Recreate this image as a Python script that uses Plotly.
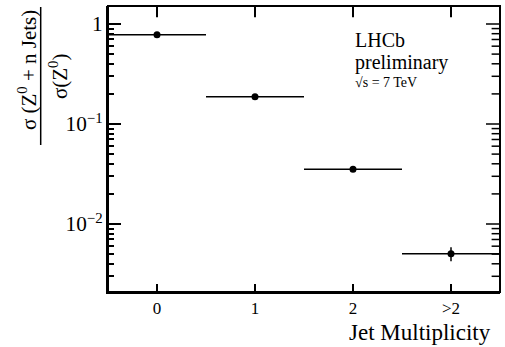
import plotly.graph_objects as go

# Jet multiplicity bins and cross-section ratios
categories = ["0", "1", "2", ">2"]
bin_centers = [0, 1, 2, 3]
ratio = [0.78, 0.187, 0.0352, 0.00505]
ratio_err = [0.004, 0.002, 0.0012, 0.0008]
bin_half_width = [0.5, 0.5, 0.5, 0.5]

# y-axis decades and the minor subdivisions inside each decade
decades = [0.01, 0.1, 1]
minor_steps = [2, 3, 4, 5, 6, 7, 8, 9]

FONT = "Liberation Serif"
INK = "#000000"
X_RANGE = [-0.5, 3.5]
Y_RANGE = [-2.68, 0.18]

fig = go.Figure()
fig.add_trace(go.Scatter(
    x=bin_centers, y=ratio, mode="markers",
    marker=dict(color=INK, size=7),
    error_y=dict(type="data", array=ratio_err, color=INK, thickness=1.5, width=0),
    error_x=dict(type="data", array=bin_half_width, color=INK, thickness=1.5, width=0),
    showlegend=False,
))

# Tick marks on the right and top edges of the frame, clipped to the plot area
y_lo, y_hi = 10 ** Y_RANGE[0], 10 ** Y_RANGE[1]
minor_vals = [m * d for d in [0.001] + decades for m in minor_steps if y_lo <= m * d <= y_hi]
tick_marks = [
    (X_RANGE[1], decades, "line-ew", 20),
    (X_RANGE[1], minor_vals, "line-ew", 12),
]
for x_edge, yv, sym, size in tick_marks:
    fig.add_trace(go.Scatter(
        x=[x_edge] * len(yv), y=yv, mode="markers", cliponaxis=True,
        marker=dict(symbol=sym, size=size, line=dict(color=INK, width=1.5)),
        showlegend=False, hoverinfo="skip",
    ))
fig.add_trace(go.Scatter(
    x=bin_centers, y=[y_hi] * len(bin_centers), mode="markers", cliponaxis=True,
    marker=dict(symbol="line-ns", size=16, line=dict(color=INK, width=2)),
    showlegend=False, hoverinfo="skip",
))

axis_common = dict(showgrid=False, zeroline=False, ticks="inside", tickcolor=INK,
                   showline=True, linewidth=2, linecolor=INK)

fig.update_layout(
    width=505, height=347,
    margin=dict(l=108, r=5, t=6, b=55),
    paper_bgcolor="white", plot_bgcolor="white",
    font=dict(family=FONT, color=INK, size=17),
    xaxis=dict(range=X_RANGE, tickvals=bin_centers, ticktext=categories,
               ticklen=8, tickwidth=2, **axis_common),
    yaxis=dict(type="log", range=Y_RANGE, dtick=1, exponentformat="power",
               ticklen=13, tickwidth=2,
               minor=dict(ticks="inside", ticklen=6, tickwidth=2, tickcolor=INK,
                          showgrid=False),
               **axis_common),
)

# top and right edges of the frame
fig.add_shape(type="rect", xref="paper", yref="paper", x0=0, x1=1, y0=0, y1=1,
              line=dict(color=INK, width=2), fillcolor="rgba(0,0,0,0)")

# Ratio title drawn as a fraction
fig.add_annotation(xref="paper", yref="paper", x=-0.2066, y=0.776,
                   text="σ (Z<sup>0</sup> + n Jets)", textangle=-90, showarrow=False,
                   font=dict(size=21), xanchor="center", yanchor="middle")
fig.add_annotation(xref="paper", yref="paper", x=-0.1276, y=0.755,
                   text="σ(Z<sup>0</sup>)", textangle=-90, showarrow=False,
                   font=dict(size=21), xanchor="center", yanchor="middle")
fig.add_shape(type="line", xref="paper", yref="paper",
              x0=-0.1717, x1=-0.1717, y0=0.514, y1=0.9965,
              line=dict(color=INK, width=1.5))

fig.add_annotation(xref="paper", yref="paper", x=0.982, y=-0.143,
                   text="Jet Multiplicity", showarrow=False, font=dict(size=23),
                   xanchor="right", yanchor="middle")

fig.add_annotation(xref="paper", yref="paper", x=0.625, y=0.881, text="LHCb",
                   showarrow=False, font=dict(size=20), xanchor="left", yanchor="middle")
fig.add_annotation(xref="paper", yref="paper", x=0.625, y=0.804, text="preliminary",
                   showarrow=False, font=dict(size=20), xanchor="left", yanchor="middle")
fig.add_annotation(xref="paper", yref="paper", x=0.625, y=0.731, text="√s = 7 TeV",
                   showarrow=False, font=dict(size=14), xanchor="left", yanchor="middle")

fig.write_html("out.html")
